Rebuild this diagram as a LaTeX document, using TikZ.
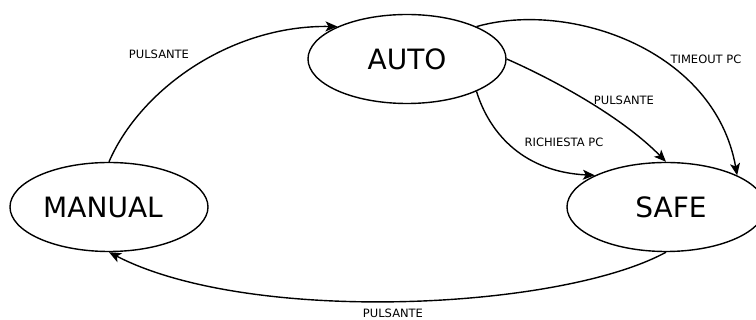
\documentclass[tikz,border=0pt]{standalone}
\usepackage{fontspec}
\setmainfont{DejaVu Sans}
\usetikzlibrary{positioning, shapes, arrows.meta}

\begin{document}
\begin{tikzpicture}[
    x=1pt, y=-1pt,
    state/.style={draw, ellipse, line width=1.4pt, minimum width=198pt, minimum height=89pt, inner sep=0pt, font=\fontsize{28}{32}\selectfont},
    arrow/.style={-{Stealth[length=12pt, width=10pt, inset=3pt]}, line width=1.4pt},
    lbl/.style={inner sep=0pt, font=\fontsize{11.5}{13}\selectfont}
    ]
    \useasboundingbox (0,0) rectangle (756,320);

    \node (auto) [state] at (407,59) {AUTO};
    \node (manual) [state] at (109,207) {MANUAL\kern12pt};
    \node (safe) [state] at (666,207) {\kern10pt SAFE};

    \draw[arrow] (manual.north) .. controls (140,90) and (230,25) .. (auto.155);
    \draw[arrow] (auto.25) .. controls (570,0) and (715,50) .. (safe.24);
    \draw[arrow] (auto.east) .. controls (550,78) and (620,115) .. (safe.north);
    \draw[arrow] (auto.-25) .. controls (490,135) and (525,172) .. (safe.156);
    \draw[arrow] (safe.south) .. controls (560,310) and (250,325) .. (manual.south);

    \node (lblmanual) [lbl] at (159,54) {PULSANTE};
    \node (lbltimeout) [lbl] at (706,59) {TIMEOUT PC};
    \node (lblauto) [lbl] at (624,100) {PULSANTE};
    \node (lblrichiesta) [lbl] at (564,142) {RICHIESTA PC};
    \node (lblsafe) [lbl] at (393,313) {PULSANTE};
\end{tikzpicture}
\end{document}
